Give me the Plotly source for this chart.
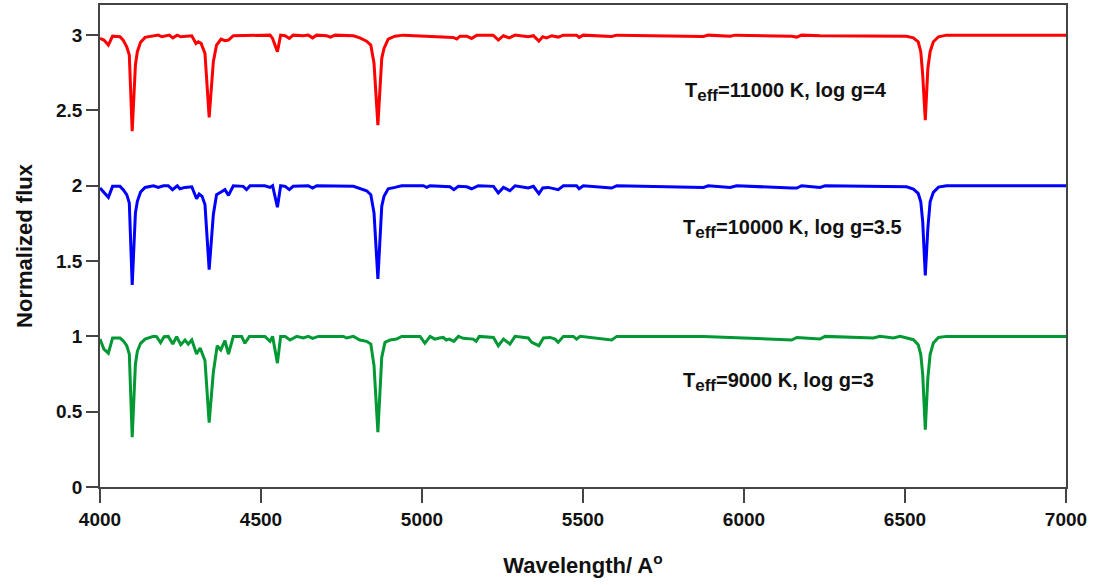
import plotly.graph_objects as go

# Synthetic spectra (normalized flux), one per model atmosphere.
# Each spectrum is shifted vertically by an integer offset for display.

wl_11000 = [4000, 4012, 4026, 4039, 4062, 4072, 4083, 4091, 4100, 4110, 4116, 4126, 4140,
            4166, 4181, 4192, 4215, 4226, 4240, 4251, 4285, 4298, 4305, 4314, 4326, 4339,
            4352, 4362, 4376, 4388, 4399, 4414, 4461, 4487, 4512, 4528, 4536, 4551, 4561,
            4575, 4588, 4600, 4631, 4647, 4660, 4673, 4704, 4716, 4730, 4787, 4807, 4828,
            4841, 4851, 4863, 4875, 4882, 4895, 4916, 4942, 5097, 5108, 5118, 5139, 5154,
            5170, 5221, 5237, 5253, 5271, 5289, 5330, 5346, 5363, 5375, 5387, 5403, 5423,
            5439, 5480, 5488, 5501, 5589, 5605, 5874, 5889, 5957, 5972, 6148, 6164, 6179,
            6236, 6505, 6526, 6541, 6549, 6555, 6563, 6571, 6578, 6588, 6604, 6629, 7000]
flux_11000 = [0.978, 0.967, 0.934, 0.993, 0.989, 0.967, 0.923, 0.868, 0.362, 0.802, 0.890, 0.952, 0.985,
              0.993, 1.000, 0.989, 1.000, 0.982, 1.000, 0.989, 0.996, 0.945, 0.956, 0.945, 0.879, 0.454,
              0.824, 0.934, 0.974, 0.963, 0.967, 0.996, 0.996, 1.000, 0.996, 1.000, 0.978, 0.890, 1.000,
              0.996, 0.978, 1.000, 0.996, 1.000, 0.982, 1.000, 0.996, 0.987, 1.000, 0.996, 0.982, 0.960,
              0.934, 0.813, 0.402, 0.846, 0.912, 0.974, 0.993, 1.000, 0.985, 0.974, 0.993, 0.993, 0.978,
              1.000, 1.000, 0.967, 0.996, 0.982, 1.000, 0.989, 0.996, 0.960, 0.989, 0.982, 0.996, 0.987,
              1.000, 1.000, 0.985, 1.000, 0.991, 1.000, 0.991, 1.000, 0.993, 1.000, 0.993, 0.987, 1.000,
              0.996, 0.993, 0.982, 0.956, 0.890, 0.736, 0.435, 0.780, 0.890, 0.956, 0.989, 1.000, 1.000]

wl_10000 = [4000, 4026, 4039, 4062, 4072, 4083, 4091, 4100, 4110, 4116, 4126, 4140, 4166,
            4181, 4197, 4212, 4225, 4240, 4248, 4264, 4285, 4300, 4308, 4317, 4326, 4339,
            4352, 4362, 4376, 4388, 4399, 4414, 4445, 4455, 4466, 4512, 4528, 4536, 4551,
            4561, 4575, 4588, 4600, 4631, 4647, 4660, 4673, 4787, 4807, 4828, 4841, 4851,
            4863, 4875, 4882, 4895, 4916, 4937, 5004, 5015, 5025, 5087, 5099, 5113, 5139,
            5154, 5175, 5222, 5237, 5253, 5273, 5289, 5330, 5346, 5363, 5375, 5392, 5423,
            5439, 5480, 5488, 5501, 5589, 5605, 5874, 5889, 5957, 5977, 6148, 6164, 6179,
            6236, 6252, 6505, 6526, 6541, 6549, 6555, 6563, 6571, 6578, 6588, 6604, 6629, 7000]
flux_10000 = [0.985, 0.923, 0.996, 0.996, 0.974, 0.941, 0.886, 0.342, 0.820, 0.897, 0.958, 0.989, 1.000,
              0.989, 1.000, 1.000, 0.974, 1.000, 0.980, 0.989, 0.993, 0.914, 0.945, 0.930, 0.875, 0.443,
              0.809, 0.941, 0.958, 0.974, 0.936, 1.000, 0.996, 0.974, 1.000, 1.000, 0.989, 1.000, 0.857,
              1.000, 0.996, 0.974, 0.996, 0.996, 1.000, 0.985, 1.000, 0.996, 0.980, 0.967, 0.941, 0.820,
              0.382, 0.864, 0.930, 0.980, 0.989, 1.000, 1.000, 0.989, 1.000, 0.993, 0.974, 0.996, 0.993,
              0.980, 1.000, 0.996, 0.952, 0.989, 0.967, 1.000, 0.985, 0.996, 0.947, 0.985, 0.989, 0.974,
              1.000, 1.000, 0.980, 1.000, 0.985, 1.000, 0.989, 1.000, 0.989, 1.000, 0.985, 0.985, 1.000,
              0.989, 1.000, 0.993, 0.978, 0.949, 0.894, 0.762, 0.404, 0.718, 0.894, 0.956, 0.991, 1.000, 1.000]

wl_9000 = [4000, 4012, 4026, 4039, 4062, 4072, 4083, 4091, 4100, 4110, 4116, 4126, 4140,
           4166, 4176, 4188, 4199, 4212, 4226, 4238, 4251, 4264, 4274, 4285, 4300, 4311,
           4326, 4339, 4352, 4364, 4375, 4388, 4399, 4414, 4440, 4450, 4464, 4512, 4528,
           4536, 4551, 4561, 4575, 4590, 4611, 4631, 4647, 4660, 4678, 4756, 4766, 4787,
           4807, 4828, 4841, 4851, 4863, 4875, 4885, 4901, 4921, 4937, 4994, 5009, 5025,
           5040, 5054, 5066, 5075, 5085, 5099, 5113, 5128, 5144, 5159, 5168, 5178, 5222,
           5237, 5253, 5273, 5289, 5330, 5341, 5363, 5377, 5398, 5413, 5423, 5439, 5470,
           5480, 5491, 5589, 5605, 5874, 5967, 6148, 6164, 6236, 6252, 6402, 6422, 6464,
           6485, 6526, 6541, 6549, 6555, 6563, 6571, 6578, 6588, 6604, 6629, 7000]
flux_9000 = [0.982, 0.916, 0.888, 0.989, 0.989, 0.971, 0.938, 0.883, 0.331, 0.817, 0.901, 0.954, 0.982,
             1.000, 0.998, 0.958, 0.998, 1.000, 0.949, 0.998, 0.945, 0.976, 0.949, 0.976, 0.883, 0.923,
             0.839, 0.428, 0.762, 0.938, 0.910, 0.971, 0.883, 1.000, 1.000, 0.954, 1.000, 1.000, 0.967,
             1.000, 0.822, 1.000, 1.000, 0.976, 1.000, 0.989, 1.000, 0.987, 1.000, 1.000, 0.989, 1.000,
             0.976, 0.967, 0.949, 0.806, 0.364, 0.861, 0.960, 0.976, 0.982, 1.000, 1.000, 0.954, 1.000,
             0.982, 0.989, 0.993, 0.976, 0.982, 0.967, 1.000, 0.987, 0.982, 0.982, 0.967, 1.000, 0.993,
             0.938, 0.982, 0.949, 1.000, 0.989, 0.960, 0.938, 0.989, 0.993, 0.982, 0.960, 1.000, 1.000,
             0.982, 1.000, 0.976, 1.000, 1.000, 0.993, 0.976, 0.993, 0.982, 1.000, 0.989, 1.000, 0.989,
             1.000, 0.978, 0.945, 0.879, 0.747, 0.380, 0.725, 0.879, 0.956, 0.993, 1.000, 1.000]

models = ["T11000", "T10000", "T9000"]
offsets = [2, 1, 0]
colors = ["#ff0000", "#0000ff", "#009933"]
teff = ["11000", "10000", "9000"]
logg = ["4", "3.5", "3"]
label_x = [5811, 5803, 5803]
label_y = [2.625, 1.71, 0.695]

spectra = [(wl_11000, flux_11000), (wl_10000, flux_10000), (wl_9000, flux_9000)]

FONT = "Liberation Sans, Arial, sans-serif"
INK = "#111111"

fig = go.Figure()
for (wl, fl), off, col, name in zip(spectra, offsets, colors, models):
    fig.add_trace(go.Scatter(
        x=wl, y=[f + off for f in fl], mode="lines", name=name,
        line=dict(color=col, width=3), showlegend=False))

for t, g, lx, ly in zip(teff, logg, label_x, label_y):
    txt = ("<b>T<sub><span style='font-size:17px'>eff</span></sub>"
           "=%s K, log g=%s</b>" % (t, g))
    fig.add_annotation(x=lx, y=ly, xref="x", yref="y", text=txt,
                       showarrow=False, xanchor="left", yanchor="middle",
                       font=dict(family=FONT, size=20, color=INK))

axis_common = dict(showline=True, linecolor="#444444", linewidth=1.5, mirror=True,
                   ticks="outside", tickcolor="#444444", tickwidth=1.5,
                   showgrid=False, zeroline=False,
                   tickfont=dict(family=FONT, size=19, color=INK))

xt = [4000, 4500, 5000, 5500, 6000, 6500, 7000]
fig.update_xaxes(range=[4000, 7000], tickvals=xt,
                 ticktext=["<b>%d</b>" % v for v in xt],
                 ticklen=14,
                 title=dict(text="<b>Wavelength/ A<sup>o</sup></b>", standoff=29,
                            font=dict(family=FONT, size=22, color=INK)),
                 **axis_common)
yt = [0, 0.5, 1, 1.5, 2, 2.5, 3]
fig.update_yaxes(range=[0, 3.2], tickvals=yt,
                 ticktext=["<b>%g</b>" % v for v in yt],
                 ticklen=12,
                 title=dict(text="<b>Normalized flux</b>", standoff=17,
                            font=dict(family=FONT, size=22, color=INK)),
                 **axis_common)

fig.update_layout(width=1096, height=585, paper_bgcolor="white", plot_bgcolor="white",
                  margin=dict(l=100, r=30, t=3, b=98))

fig.write_html("out.html")
